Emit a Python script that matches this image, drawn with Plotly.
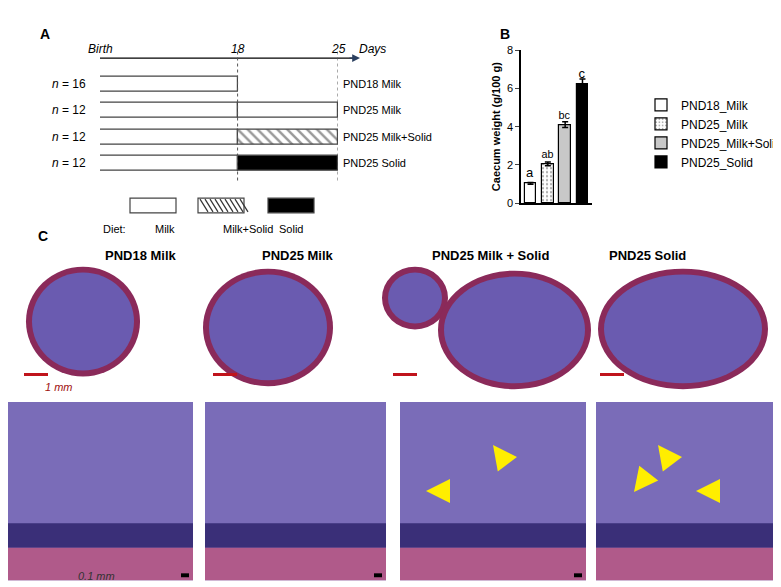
import plotly.graph_objects as go

W, H = 781, 587

# ---- panel A data (schematic timeline) ----
group_n = ["n = 16", "n = 12", "n = 12", "n = 12"]
group_names = ["PND18 Milk", "PND25 Milk", "PND25 Milk+Solid", "PND25 Solid"]
milk_end = [18, 18, 18, 18]
second_diet = [None, "Milk", "Milk+Solid", "Solid"]
timeline_ticks = [0, 18, 25]
timeline_labels = ["Birth", "18", "25"]

# ---- panel B data ----
groups_b = ["PND18_Milk", "PND25_Milk", "PND25_Milk+Solid", "PND25_Solid"]
caecum_weight = [1.03, 2.05, 4.1, 6.2]
caecum_err = [0.05, 0.1, 0.15, 0.3]
sig_letters = ["a", "ab", "bc", "c"]

# ---- panel C text ----
section_titles = ["PND18 Milk", "PND25 Milk", "PND25 Milk + Solid", "PND25 Solid"]


def px(x):
    return x / W


def py(y):
    return 1 - y / H


# schematic: 18 days drawn wider than the last 7
def day_pos(d):
    return d * 137 / 18 if d <= 18 else 137 + (d - 18) * 100 / 7


fig = go.Figure()

# timeline bars
rows = list(range(len(group_names)))
fig.add_trace(go.Bar(
    y=rows, x=[day_pos(e) for e in milk_end], base=0, orientation="h",
    width=0.56, marker=dict(color="white", line=dict(color="#444", width=1.2)),
    xaxis="x2", yaxis="y2", showlegend=False, hoverinfo="skip"))
style = {"Milk": dict(color="white", pattern=None),
         "Milk+Solid": dict(color="white", pattern=dict(shape="\\", size=7, solidity=0.35, fgcolor="#333")),
         "Solid": dict(color="black", pattern=None)}
for r, d in zip(rows, second_diet):
    if d is None:
        continue
    m = dict(color=style[d]["color"], line=dict(color="#444", width=1.2))
    if style[d]["pattern"]:
        m["pattern"] = style[d]["pattern"]
    fig.add_trace(go.Bar(
        y=[r], x=[day_pos(25) - day_pos(18)], base=day_pos(18), orientation="h",
        width=0.56, marker=m, xaxis="x2", yaxis="y2", showlegend=False, hoverinfo="skip"))

# panel B bars
b_colors = ["white", "white", "#c8c8c8", "black"]
b_patterns = [None, dict(shape=".", size=4, solidity=0.25, fgcolor="#555"), None, None]
for i, g in enumerate(groups_b):
    m = dict(color=b_colors[i], line=dict(color="black", width=1.2))
    if b_patterns[i]:
        m["pattern"] = b_patterns[i]
    fig.add_trace(go.Bar(
        x=[i], y=[caecum_weight[i]], width=0.68, name=g, marker=m,
        error_y=dict(type="data", array=[caecum_err[i]], visible=True, color="black",
                     thickness=1.5, width=3),
        text=[sig_letters[i]], textposition="outside", textfont=dict(size=13, color="black"),
        cliponaxis=False))

fig.update_layout(
    width=W, height=H, margin=dict(l=0, r=0, t=0, b=0),
    paper_bgcolor="white", plot_bgcolor="white",
    font=dict(family="Liberation Sans, Arial", color="black"),
    barmode="overlay", bargap=0,
    xaxis=dict(domain=[px(513), px(584)], range=[-0.55, 3.55], showline=True,
               linecolor="black", linewidth=1.5, showticklabels=False, ticks="",
               showgrid=False, zeroline=False, fixedrange=True),
    yaxis=dict(domain=[py(193), py(37)], range=[0, 8], tickvals=[0, 2, 4, 6, 8],
               showline=True, linecolor="black", linewidth=1.5, ticks="outside",
               ticklen=4, tickfont=dict(size=11), showgrid=False, zeroline=False,
               title=dict(text="<b>Caecum weight (g/100 g)</b>", font=dict(size=11), standoff=4)),
    xaxis2=dict(domain=[px(92), px(330)], range=[0, day_pos(25)], visible=False,
                anchor="y2"),
    yaxis2=dict(domain=[py(166), py(58)], range=[3.5, -0.5], visible=False, anchor="x2"),
    legend=dict(x=px(633), y=py(78), xanchor="left", yanchor="top", font=dict(size=12),
                bgcolor="rgba(0,0,0,0)", tracegroupgap=0, itemwidth=30),
)

shapes, ann = [], []
# timeline arrow and dashed lines
shapes.append(dict(type="line", xref="paper", yref="paper", x0=px(92), x1=px(345),
                   y0=py(45), y1=py(45), line=dict(color="black", width=1.3)))
ann.append(dict(x=px(352), y=py(45), ax=-12, ay=0, xref="paper", yref="paper",
                text="", showarrow=True, arrowhead=2, arrowsize=1.2, arrowwidth=1.3))
for t in timeline_ticks[1:]:
    shapes.append(dict(type="line", xref="x2", yref="paper", x0=day_pos(t), x1=day_pos(t),
                       y0=py(170), y1=py(38), line=dict(color="#555", width=1, dash="dot")))
for t, lab in zip(timeline_ticks, timeline_labels):
    ann.append(dict(x=day_pos(t), y=py(27), xref="x2", yref="paper", text="<i>%s</i>" % lab,
                    showarrow=False, font=dict(size=12, family="Liberation Sans, Arial")))
ann.append(dict(x=px(364), y=py(27), xref="paper", yref="paper", text="<i>Days</i>",
                showarrow=False, font=dict(size=12)))
for r in rows:
    n_txt = group_n[r].replace("n", "<i>n</i>", 1)
    ann.append(dict(x=px(80), y=r, xref="paper", yref="y2", text=n_txt, xanchor="right",
                    showarrow=False, font=dict(size=12)))
    ann.append(dict(x=px(333), y=r, xref="paper", yref="y2", text=group_names[r],
                    xanchor="left", showarrow=False, font=dict(size=11)))

# diet key
key = [("Milk", 122, 145), ("Milk+Solid", 190, 213), ("Solid", 260, 283)]
for name, x0, xc in key:
    s = dict(type="rect", xref="paper", yref="paper", x0=px(x0), x1=px(x0 + 46),
             y0=py(203), y1=py(188), line=dict(color="#444", width=1.2),
             fillcolor="black" if name == "Solid" else "white")
    shapes.append(s)
    if name == "Milk+Solid":
        for k in range(9):
            xa = x0 + 2 + k * 5
            shapes.append(dict(type="line", xref="paper", yref="paper", x0=px(xa), x1=px(xa + 8),
                               y0=py(189), y1=py(202), line=dict(color="#333", width=1.2)))
    ann.append(dict(x=px(xc), y=py(219), xref="paper", yref="paper", text=name,
                    showarrow=False, font=dict(size=11)))
ann.append(dict(x=px(93), y=py(219), xref="paper", yref="paper", text="Diet:",
                showarrow=False, font=dict(size=11)))

# panel letters
for lab, x, y in [("A", 30, 10), ("B", 497, 10), ("C", 28, 227)]:
    ann.append(dict(x=px(x), y=py(y), xref="paper", yref="paper", text="<b>%s</b>" % lab,
                    showarrow=False, font=dict(size=14)))

# panel C: stylised sections
title_x = [95, 290, 482, 680]
for t, x in zip(section_titles, title_x):
    ann.append(dict(x=px(x), y=py(247), xref="paper", yref="paper", text="<b>%s</b>" % t,
                    showarrow=False, font=dict(size=13)))
outer = "#8a2a5a"
inner = "#6a5bb0"
circles = [(18, 258, 132, 370), (195, 260, 325, 380), (374, 258, 440, 322),
           (430, 262, 583, 383), (590, 260, 760, 383)]
for x0, y0, x1, y1 in circles:
    shapes.append(dict(type="circle", xref="paper", yref="paper", x0=px(x0), x1=px(x1),
                       y0=py(y1), y1=py(y0), fillcolor=outer, line=dict(width=0)))
    shapes.append(dict(type="circle", xref="paper", yref="paper", x0=px(x0 + 6), x1=px(x1 - 6),
                       y0=py(y1 - 6), y1=py(y0 + 6), fillcolor=inner, line=dict(width=0)))
panels = [(0, 185), (197, 378), (392, 578), (588, 781)]
for x0, x1 in panels:
    shapes.append(dict(type="rect", xref="paper", yref="paper", x0=px(x0), x1=px(x1),
                       y0=py(578), y1=py(396), fillcolor="#7a6cb8", line=dict(width=0)))
    shapes.append(dict(type="rect", xref="paper", yref="paper", x0=px(x0), x1=px(x1),
                       y0=py(545), y1=py(520), fillcolor="#3a2f78", line=dict(width=0)))
    shapes.append(dict(type="rect", xref="paper", yref="paper", x0=px(x0), x1=px(x1),
                       y0=py(578), y1=py(545), fillcolor="#b05a8a", line=dict(width=0)))
    shapes.append(dict(type="rect", xref="paper", yref="paper", x0=px(x1 - 12), x1=px(x1 - 4),
                       y0=py(575), y1=py(571), fillcolor="black", line=dict(width=0)))
for x in [16, 205, 385, 592]:
    shapes.append(dict(type="line", xref="paper", yref="paper", x0=px(x), x1=px(x + 24),
                       y0=py(368), y1=py(368), line=dict(color="#c0141c", width=3)))
ann.append(dict(x=px(35), y=py(381), xref="paper", yref="paper", text="<i>1 mm</i>",
                showarrow=False, font=dict(size=11, color="#a01010")))
ann.append(dict(x=px(68), y=py(582), xref="paper", yref="paper", text="<i>0.1 mm</i>",
                showarrow=False, font=dict(size=11, color="#333")))
for (xh, yh, xt, yt) in [(418, 487, 440, 487), (485, 440, 500, 460), (626, 488, 640, 470),
                         (650, 440, 665, 460), (688, 487, 705, 487)]:
    ann.append(dict(x=px(xh), y=py(yh), ax=xt - xh, ay=yt - yh, xref="paper", yref="paper",
                    text="", showarrow=True, arrowhead=2,
                    arrowsize=1.2, arrowwidth=4, arrowcolor="#ffee00"))

fig.update_layout(shapes=shapes, annotations=ann)
fig.write_html("out.html")
